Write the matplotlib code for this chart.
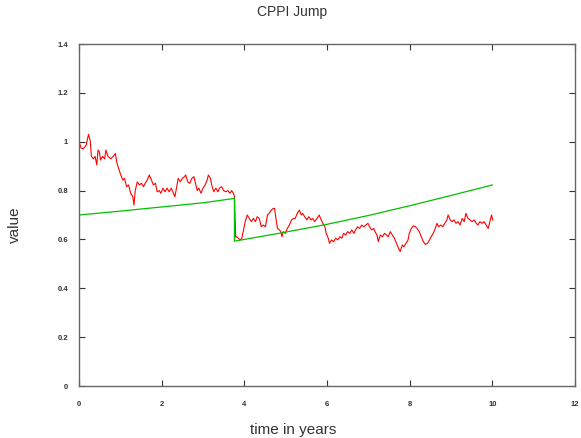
import matplotlib
matplotlib.use("Agg")
import matplotlib.pyplot as plt

# portfolio value (red)
red_t = [0.00, 0.05, 0.10, 0.17, 0.23, 0.27, 0.30, 0.35, 0.39, 0.43, 0.46, 0.49,
         0.52, 0.57, 0.62, 0.65, 0.70, 0.77, 0.83, 0.88, 0.91, 0.96, 1.01, 1.06,
         1.10, 1.15, 1.20, 1.25, 1.30, 1.33, 1.36, 1.41, 1.46, 1.51, 1.56, 1.60,
         1.65, 1.70, 1.75, 1.80, 1.85, 1.89, 1.94, 1.98, 2.03, 2.08, 2.13, 2.18,
         2.23, 2.27, 2.32, 2.37, 2.40, 2.45, 2.50, 2.55, 2.58, 2.63, 2.68, 2.73,
         2.78, 2.81, 2.86, 2.90, 2.95, 3.00, 3.05, 3.10, 3.13, 3.18, 3.21, 3.26,
         3.31, 3.36, 3.40, 3.45, 3.50, 3.55, 3.60, 3.65, 3.69, 3.74, 3.76, 3.79,
         3.81, 3.85, 3.90, 3.94, 3.98, 4.02, 4.07, 4.12, 4.17, 4.22, 4.27, 4.31,
         4.36, 4.41, 4.46, 4.51, 4.56, 4.60, 4.65, 4.70, 4.73, 4.77, 4.80, 4.85,
         4.88, 4.91, 4.94, 4.99, 5.04, 5.09, 5.14, 5.19, 5.23, 5.28, 5.33, 5.38,
         5.41, 5.46, 5.51, 5.56, 5.61, 5.65, 5.70, 5.76, 5.81, 5.86, 5.90, 5.95,
         5.98, 6.03, 6.06, 6.11, 6.16, 6.21, 6.26, 6.31, 6.36, 6.40, 6.45, 6.50,
         6.55, 6.60, 6.65, 6.69, 6.74, 6.79, 6.84, 6.89, 6.94, 6.99, 7.03, 7.08,
         7.13, 7.16, 7.21, 7.24, 7.29, 7.34, 7.39, 7.44, 7.48, 7.53, 7.58, 7.63,
         7.68, 7.73, 7.77, 7.82, 7.86, 7.91, 7.96, 7.99, 8.04, 8.09, 8.14, 8.18,
         8.23, 8.28, 8.33, 8.38, 8.43, 8.48, 8.52, 8.57, 8.62, 8.66, 8.70, 8.75,
         8.80, 8.85, 8.90, 8.93, 8.98, 9.03, 9.07, 9.12, 9.17, 9.22, 9.27, 9.32,
         9.36, 9.41, 9.46, 9.51, 9.56, 9.61, 9.65, 9.70, 9.75, 9.80, 9.85, 9.90,
         9.94, 9.98, 10.01]
red_v = [1.000, 0.975, 0.970, 0.985, 1.030, 1.005, 0.940, 0.930, 0.940, 0.905, 0.966, 0.960,
         0.925, 0.940, 0.930, 0.966, 0.940, 0.930, 0.940, 0.952, 0.918, 0.890, 0.864, 0.843,
         0.850, 0.816, 0.823, 0.789, 0.775, 0.741, 0.800, 0.836, 0.823, 0.830, 0.816, 0.830,
         0.843, 0.864, 0.843, 0.823, 0.830, 0.795, 0.800, 0.789, 0.810, 0.795, 0.810, 0.795,
         0.810, 0.795, 0.775, 0.823, 0.850, 0.836, 0.850, 0.857, 0.864, 0.836, 0.830, 0.850,
         0.857, 0.836, 0.800, 0.810, 0.789, 0.810, 0.823, 0.843, 0.864, 0.850, 0.823, 0.795,
         0.810, 0.795, 0.810, 0.816, 0.800, 0.795, 0.800, 0.789, 0.800, 0.789, 0.775, 0.610,
         0.611, 0.605, 0.598, 0.605, 0.639, 0.673, 0.700, 0.686, 0.673, 0.686, 0.673, 0.693,
         0.686, 0.652, 0.659, 0.652, 0.700, 0.707, 0.720, 0.727, 0.727, 0.680, 0.645, 0.639,
         0.632, 0.611, 0.632, 0.625, 0.645, 0.659, 0.680, 0.686, 0.686, 0.707, 0.720, 0.700,
         0.707, 0.693, 0.680, 0.693, 0.680, 0.686, 0.673, 0.686, 0.700, 0.680, 0.666, 0.652,
         0.625, 0.605, 0.584, 0.598, 0.591, 0.605, 0.598, 0.611, 0.605, 0.625, 0.618, 0.632,
         0.625, 0.639, 0.625, 0.639, 0.652, 0.645, 0.659, 0.652, 0.659, 0.666, 0.652, 0.639,
         0.645, 0.632, 0.618, 0.591, 0.618, 0.611, 0.625, 0.618, 0.611, 0.632, 0.618, 0.605,
         0.584, 0.564, 0.550, 0.577, 0.570, 0.584, 0.598, 0.625, 0.645, 0.656, 0.652, 0.645,
         0.632, 0.611, 0.591, 0.580, 0.584, 0.598, 0.611, 0.625, 0.645, 0.666, 0.652, 0.659,
         0.652, 0.666, 0.680, 0.700, 0.680, 0.673, 0.680, 0.666, 0.673, 0.659, 0.686, 0.673,
         0.707, 0.686, 0.680, 0.673, 0.680, 0.666, 0.659, 0.673, 0.666, 0.673, 0.659, 0.645,
         0.673, 0.700, 0.680]

# floor (green)
floor_t = [0.0, 1.0, 2.0, 3.0, 3.76, 3.76, 4.0, 5.0, 6.0, 7.0, 8.0, 9.0, 10.0]
floor_v = [0.700, 0.716, 0.733, 0.750, 0.768, 0.593, 0.600, 0.630, 0.662, 0.698, 0.738, 0.780, 0.823]

xticks = [0, 2, 4, 6, 8, 10, 12]
yticks = [0, 0.2, 0.4, 0.6, 0.8, 1.0, 1.2, 1.4]
yticklabels = ["0", "0.2", "0.4", "0.6", "0.8", "1", "1.2", "1.4"]

plt.rcParams["font.family"] = ["Liberation Sans", "DejaVu Sans"]

fig = plt.figure(figsize=(5.81, 4.38), dpi=100)
ax = fig.add_axes([0.136, 0.1187, 0.8537, 0.7808])

ax.plot(red_t, red_v, color="#ff0000", lw=0.8)
ax.plot(floor_t, floor_v, color="#00c000", lw=0.9)

ax.set_xlim(0, 12)
ax.set_ylim(0, 1.4)
ax.set_xticks(xticks)
ax.set_xticklabels([str(x) for x in xticks])
ax.set_yticks(yticks)
ax.set_yticklabels(yticklabels)
ax.tick_params(direction="in", length=4, width=0.8, color="#333333",
               top=True, right=True, labelsize=5.5)
ax.tick_params(axis="x", pad=11)
ax.tick_params(axis="y", pad=8)
for lab in ax.get_xticklabels() + ax.get_yticklabels():
    lab.set_fontweight("bold")
    lab.set_color("#333333")
for s in ax.spines.values():
    s.set_color("#666666")
    s.set_linewidth(1.0)

fig.text(0.503, 0.973, "CPPI Jump", ha="center", va="center", fontsize=10, color="#333333")
fig.text(0.504, 0.018, "time in years", ha="center", va="center", fontsize=11, color="#333333")
fig.text(0.026, 0.486, "value", ha="center", va="center", rotation=90, fontsize=11, color="#333333")

fig.savefig("out.png", dpi=100)
